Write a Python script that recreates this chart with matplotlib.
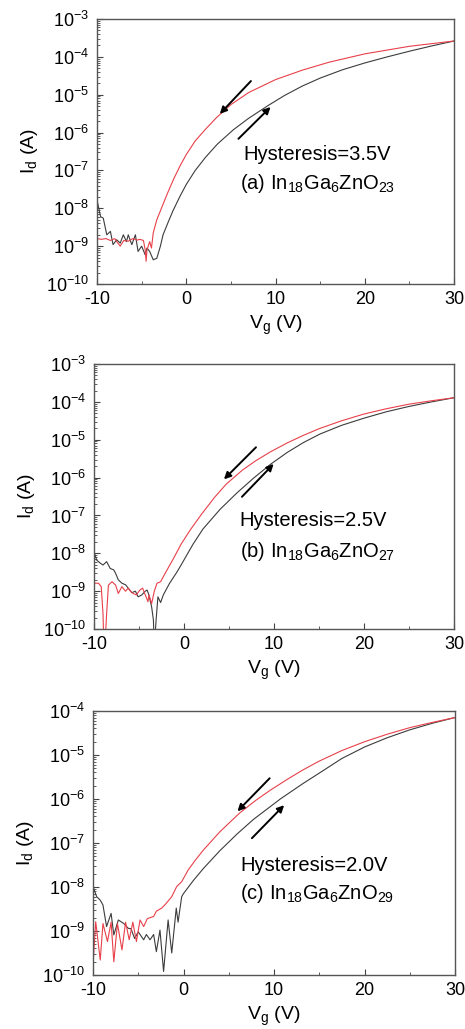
import numpy as np
import matplotlib
matplotlib.use('Agg')
import matplotlib.pyplot as plt
from matplotlib.ticker import MultipleLocator, LogLocator, NullFormatter, FixedLocator

plt.rcParams['font.family'] = ['Liberation Sans', 'DejaVu Sans']
plt.rcParams['mathtext.default'] = 'regular'
plt.rcParams['axes.unicode_minus'] = False

# ---- data: gate voltage (V) and log10 of drain current (A) ----
# panel (a) In18Ga6ZnO23
a_fwd_v = [-10, -9.6, -9.3, -8.9, -8.5, -8.2, -7.8, -7.4, -7.05, -6.7, -6.5, -6.1, -5.7, -5.4, -5.0,
           -4.6, -4.4, -4.1, -3.7, -3.3, -2.9, -2.6, -2.0, -1.5, -0.7, 0, 1, 2.2, 3.5, 5.3,
           7, 9.2, 11, 13, 15, 17.5, 20, 22.5, 25, 27.5, 30]
a_fwd_log = [-7.78, -8.22, -8.26, -8.7, -8.61, -8.96, -8.83, -8.92, -8.7, -8.88, -8.7, -8.96, -8.7, -9.14, -9.0,
             -9.23, -9.05, -9.14, -9.36, -9.32, -9.0, -8.7, -8.35, -8.07, -7.68, -7.37, -7.0, -6.64, -6.3, -5.92,
             -5.62, -5.28, -5.02, -4.77, -4.56, -4.34, -4.16, -4.0, -3.85, -3.71, -3.58]
a_rev_v = [-10, -9.5, -9, -8.5, -8, -7.8, -7.4, -7, -6.5, -6, -5.5, -5.2, -4.8, -4.6, -4.5,
           -4.4, -4.1, -3.9, -3.7, -3.3, -2.7, -2.1, -1.4, -0.7, 0, 1, 2.2, 3.4, 5, 7,
           10, 13, 16, 20, 25, 30]
a_rev_log = [-8.8, -8.82, -8.8, -8.85, -8.8, -8.88, -9.0, -8.85, -8.87, -8.8, -8.84, -8.82, -8.85, -9.1, -9.4,
             -9.1, -8.88, -9.05, -8.65, -8.3, -7.95, -7.6, -7.22, -6.88, -6.58, -6.22, -5.9, -5.6, -5.26, -4.94,
             -4.6, -4.35, -4.14, -3.92, -3.72, -3.58]

# panel (b) In18Ga6ZnO27
b_fwd_v = [-10, -9.7, -9.3, -9.0, -8.6, -8.2, -7.8, -7.6, -7.3, -6.9, -6.5, -6.2, -5.8, -5.4, -5.1,
           -4.7, -4.3, -4.1, -3.9, -3.6, -3.4, -3.3, -3.1, -2.9, -2.6, -2.3, -1.6, -0.8, -0.3, 0.3,
           1.0, 2.1, 4.0, 5.9, 7.7, 9.6, 11.5, 13.3, 15.1, 17.5, 20, 22.5, 25, 27.5, 30]
b_fwd_log = [-7.96, -8.18, -8.26, -8.31, -8.22, -8.4, -8.44, -8.53, -8.7, -8.79, -8.83, -8.92, -9.04, -9.0, -9.15,
             -9.1, -9.0, -8.97, -9.1, -9.41, -9.76, -10.5, -9.76, -9.15, -9.3, -9.1, -8.79, -8.5, -8.3, -8.05,
             -7.76, -7.36, -6.84, -6.4, -6.02, -5.65, -5.33, -5.07, -4.85, -4.62, -4.43, -4.26, -4.12, -4.0, -3.89]
b_rev_v = [-10, -9.5, -9.2, -9.0, -8.9, -8.8, -8.6, -8.4, -8.0, -7.6, -7.3, -6.9, -6.5, -6.2, -5.8,
           -5.3, -4.9, -4.6, -4.4, -4.0, -3.9, -3.6, -3.3, -3.0, -2.6, -2.1, -1.2, -0.3, 0.7, 2,
           3.4, 4.7, 6.5, 8, 9.6, 11.5, 13.3, 15.1, 17.5, 20, 22.5, 25, 27.5, 30]
b_rev_log = [-8.79, -8.79, -8.88, -9.6, -10.5, -10.5, -9.6, -8.84, -8.75, -8.84, -9.06, -8.88, -9.0, -8.92, -9.04,
             -9.1, -8.97, -8.92, -9.04, -9.28, -9.1, -9.33, -9.0, -8.79, -8.75, -8.53, -8.15, -7.75, -7.38, -6.95,
             -6.52, -6.17, -5.8, -5.55, -5.32, -5.08, -4.88, -4.7, -4.5, -4.32, -4.18, -4.06, -3.97, -3.89]

# panel (c) In18Ga6ZnO29
c_fwd_v = [-10, -9.6, -9.2, -8.9, -8.5, -8.0, -7.7, -7.2, -6.6, -6.1, -5.8, -5.4, -5.0, -4.4, -4.1,
           -3.7, -3.3, -3.0, -2.6, -2.2, -1.7, -1.3, -0.8, -0.6, -0.2, 0.0, 1.1, 2.2, 4.0, 5.9,
           7.7, 10.7, 13.2, 15.1, 17.5, 20, 22.5, 25, 27.5, 30]
c_fwd_log = [-7.99, -8.22, -8.3, -8.41, -8.9, -8.6, -9.09, -8.75, -8.83, -8.94, -8.95, -9.17, -9.02, -9.2, -9.08,
             -9.2, -9.08, -9.47, -8.98, -9.92, -8.75, -9.5, -8.48, -8.8, -8.22, -8.15, -7.85, -7.58, -7.18, -6.8,
             -6.47, -6.0, -5.65, -5.4, -5.08, -4.82, -4.61, -4.43, -4.28, -4.15]
c_rev_v = [-10, -9.7, -9.2, -8.9, -8.4, -8.0, -7.7, -7.3, -6.8, -6.4, -6.0, -5.6, -5.2, -4.8, -4.4,
           -4.0, -3.3, -3.0, -2.4, -1.9, -1.3, -0.75, -0.2, 0.5, 1.2, 2.2, 4.0, 6.2, 8, 9.6,
           11.5, 13.2, 15, 17.5, 20, 22.5, 25, 27.5, 30]
c_rev_log = [-9.77, -8.79, -9.66, -8.83, -9.24, -8.8, -9.7, -8.83, -9.43, -8.8, -9.2, -8.8, -9.24, -8.75, -8.9,
             -8.72, -8.67, -8.55, -8.48, -8.37, -8.22, -7.99, -7.88, -7.62, -7.42, -7.16, -6.75, -6.32, -6.03, -5.8,
             -5.55, -5.34, -5.14, -4.9, -4.7, -4.53, -4.38, -4.26, -4.15]

hysteresis = ['3.5', '2.5', '2.0']
labels = ['a', 'b', 'c']
oxygen = ['23', '27', '29']
y_top = [-3, -3, -4]
x_ticks = [-10, 0, 10, 20, 30]

fig = plt.figure(figsize=(4.65, 10.29), dpi=100)
rects = [[0.2086, 0.724, 0.768, 0.2575],
         [0.2022, 0.3887, 0.774, 0.2575],
         [0.2000, 0.0525, 0.7785, 0.2566]]
curves = [(a_fwd_v, a_fwd_log, a_rev_v, a_rev_log),
          (b_fwd_v, b_fwd_log, b_rev_v, b_rev_log),
          (c_fwd_v, c_fwd_log, c_rev_v, c_rev_log)]
# arrow (start, end) in axes fraction: down arrow on red, up arrow on black
arrows = [[((0.431, 0.766), (0.344, 0.642)), ((0.396, 0.548), (0.486, 0.668))],
          [((0.450, 0.686), (0.361, 0.565)), ((0.411, 0.499), (0.499, 0.623))],
          [((0.488, 0.745), (0.399, 0.620)), ((0.439, 0.518), (0.528, 0.643))]]
text_pos = [(0.41, 0.487, 0.40, 0.379),
            (0.405, 0.410, 0.405, 0.292),
            (0.406, 0.413, 0.406, 0.307)]

for i in range(3):
    ax = fig.add_axes(rects[i])
    fv, flog, rv, rlog = curves[i]
    ax.plot(fv, 10.0 ** np.array(flog), color='#3c3c3c', lw=0.8)
    ax.plot(rv, 10.0 ** np.array(rlog), color='#e8404a', lw=0.8)
    ax.set_yscale('log')
    ax.set_xlim(-10, 30)
    ax.set_ylim(1e-10, 10.0 ** y_top[i])
    decades = list(range(-10, y_top[i] + 1))
    ax.yaxis.set_major_locator(FixedLocator([10.0 ** d for d in decades]))
    ax.set_yticklabels(['$10^{%d}$' % d for d in decades])
    ax.yaxis.set_minor_locator(LogLocator(base=10, subs=np.arange(2, 10), numticks=20))
    ax.yaxis.set_minor_formatter(NullFormatter())
    ax.set_xticks(x_ticks)
    ax.xaxis.set_minor_locator(MultipleLocator(5))
    ax.tick_params(which='both', direction='in', labelsize=13, color='#444444')
    ax.tick_params(which='major', length=4, width=0.8)
    ax.tick_params(which='minor', length=2.5, width=0.6)
    ax.tick_params(axis='y', pad=6)
    ax.tick_params(axis='x', pad=5)
    for s in ax.spines.values():
        s.set_color('#555555')
        s.set_linewidth(1.0)
    ax.set_xlabel('$V_g$ (V)', fontsize=14, labelpad=4)
    ax.set_ylabel('$I_d$ (A)', fontsize=14, labelpad=4)

    for (x0, y0), (x1, y1) in arrows[i]:
        ax.annotate('', xy=(x1, y1), xytext=(x0, y0), xycoords='axes fraction',
                    arrowprops=dict(arrowstyle='-|>', color='black', lw=1.4,
                                    mutation_scale=10, shrinkA=0, shrinkB=0))
    tx1, ty1, tx2, ty2 = text_pos[i]
    ax.text(tx1, ty1, 'Hysteresis=%sV' % hysteresis[i], transform=ax.transAxes,
            fontsize=14.5, va='center', ha='left')
    ax.text(tx2, ty2, '(%s) In$_{18}$Ga$_6$ZnO$_{%s}$' % (labels[i], oxygen[i]),
            transform=ax.transAxes, fontsize=14.5, va='center', ha='left')

fig.savefig('out.png', dpi=100)
